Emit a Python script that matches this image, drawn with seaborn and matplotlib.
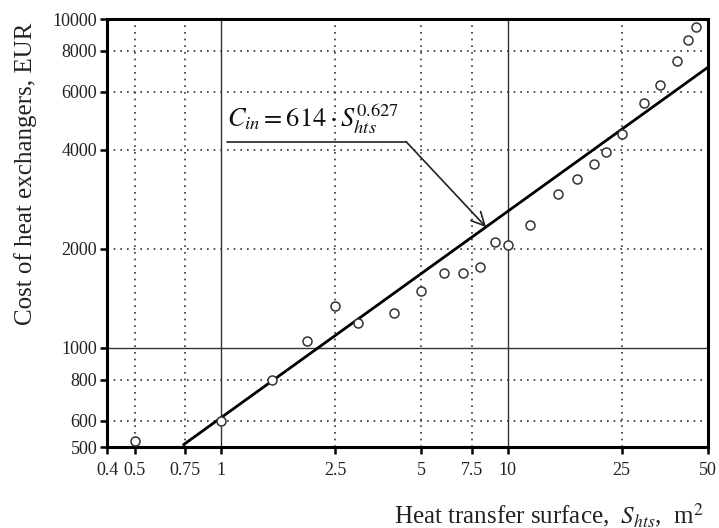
import numpy as np
import pandas as pd
import matplotlib
matplotlib.use("Agg")
import matplotlib.pyplot as plt
import seaborn as sns
from matplotlib.ticker import FixedLocator, NullLocator, FixedFormatter

# ---- data ----
surface_m2 = [0.5, 1, 1.5, 2, 2.5, 3, 4, 5, 6, 7, 8, 9, 10, 12, 15, 17.5, 20, 22,
              25, 30, 34, 39, 42.5, 45.5]
cost_eur = [520, 600, 800, 1050, 1345, 1190, 1280, 1490, 1690, 1685, 1760, 2105,
            2050, 2370, 2940, 3260, 3620, 3940, 4480, 5560, 6310, 7450, 8620, 9450]
fit_coef = 614
fit_exp = 0.627
fit_x = [0.74, 50]

x_ticks = [0.4, 0.5, 0.75, 1, 2.5, 5, 7.5, 10, 25, 50]
x_tick_labels = ["0.4", "0.5", "0.75", "1", "2.5", "5", "7.5", "10", "25", "50"]
y_ticks = [500, 600, 800, 1000, 2000, 4000, 6000, 8000, 10000]
y_tick_labels = ["500", "600", "800", "1000", "2000", "4000", "6000", "8000", "10000"]
x_dotted = [0.5, 0.75, 2.5, 5, 7.5, 25]
x_solid = [1, 10]
y_dotted = [600, 800, 2000, 4000, 6000, 8000]
y_solid = [1000]

# ---- style ----
sns.set_theme(style="white")
plt.rcParams['font.family'] = ['Liberation Serif', 'DejaVu Serif']
plt.rcParams['mathtext.fontset'] = 'stix'

fig = plt.figure(figsize=(7.19, 5.28), dpi=100)
ax = fig.add_axes([107/719, 1-447/528, (708-107)/719, (447-19)/528])

ax.set_xscale('log')
ax.set_yscale('log')
ax.set_xlim(0.4, 50)
ax.set_ylim(500, 10000)

# grid
for xv in x_dotted:
    ax.axvline(xv, color='#333333', lw=1.2, ls=(0, (1, 3)), zorder=1)
for xv in x_solid:
    ax.axvline(xv, color='#333333', lw=1.0, zorder=1)
for yv in y_dotted:
    ax.axhline(yv, color='#333333', lw=1.2, ls=(0, (1, 3)), zorder=1)
for yv in y_solid:
    ax.axhline(yv, color='#333333', lw=1.0, zorder=1)

# fitted line
fit_df = pd.DataFrame({'x': fit_x, 'y': [fit_coef * v ** fit_exp for v in fit_x]})
sns.lineplot(data=fit_df, x='x', y='y', ax=ax, color='black', lw=2.0, zorder=3)

# points
df = pd.DataFrame({'x': surface_m2, 'y': cost_eur})
sns.scatterplot(data=df, x='x', y='y', ax=ax, marker='o', s=42,
                facecolor='white', edgecolor='#333333', linewidth=1.1, zorder=4)

# ticks
ax.xaxis.set_major_locator(FixedLocator(x_ticks))
ax.xaxis.set_major_formatter(FixedFormatter(x_tick_labels))
ax.xaxis.set_minor_locator(NullLocator())
ax.yaxis.set_major_locator(FixedLocator(y_ticks))
ax.yaxis.set_major_formatter(FixedFormatter(y_tick_labels))
ax.yaxis.set_minor_locator(NullLocator())
ax.tick_params(axis='both', which='major', direction='out', length=5, width=1.8,
               color='black', labelsize=13, labelcolor='#222222',
               bottom=True, left=True)
ax.tick_params(axis='x', pad=6)
ax.tick_params(axis='y', pad=2)
ax.set_xlabel('')
ax.set_ylabel('')
for sp in ax.spines.values():
    sp.set_linewidth(2.2)
    sp.set_color('black')

# annotation
ax.annotate('', xy=(8.41, 2330), xytext=(4.42, 4240),
            arrowprops=dict(arrowstyle='->', color='#222222', lw=1.2,
                            mutation_scale=24, shrinkA=0, shrinkB=0), zorder=5)
ax.plot([1.046, 4.42], [4240, 4240], color='#222222', lw=1.2, zorder=5)
ax.text(1.05, 4700, r'$C_{in} = 614\cdot S_{hts}^{0.627}$', fontsize=19,
        color='#111111', ha='left', va='baseline', zorder=5)

# axis labels
fig.text(26/719, 1-174/528, 'Cost of heat exchangers, EUR', rotation=90,
         ha='center', va='center', fontsize=18, color='#222222')
fig.text(704/719, 1-515/528, r'Heat transfer surface,  $S_{hts}$,  m$^2$',
         ha='right', va='center', fontsize=18, color='#222222')

fig.savefig('out.png', dpi=100, facecolor='white')
